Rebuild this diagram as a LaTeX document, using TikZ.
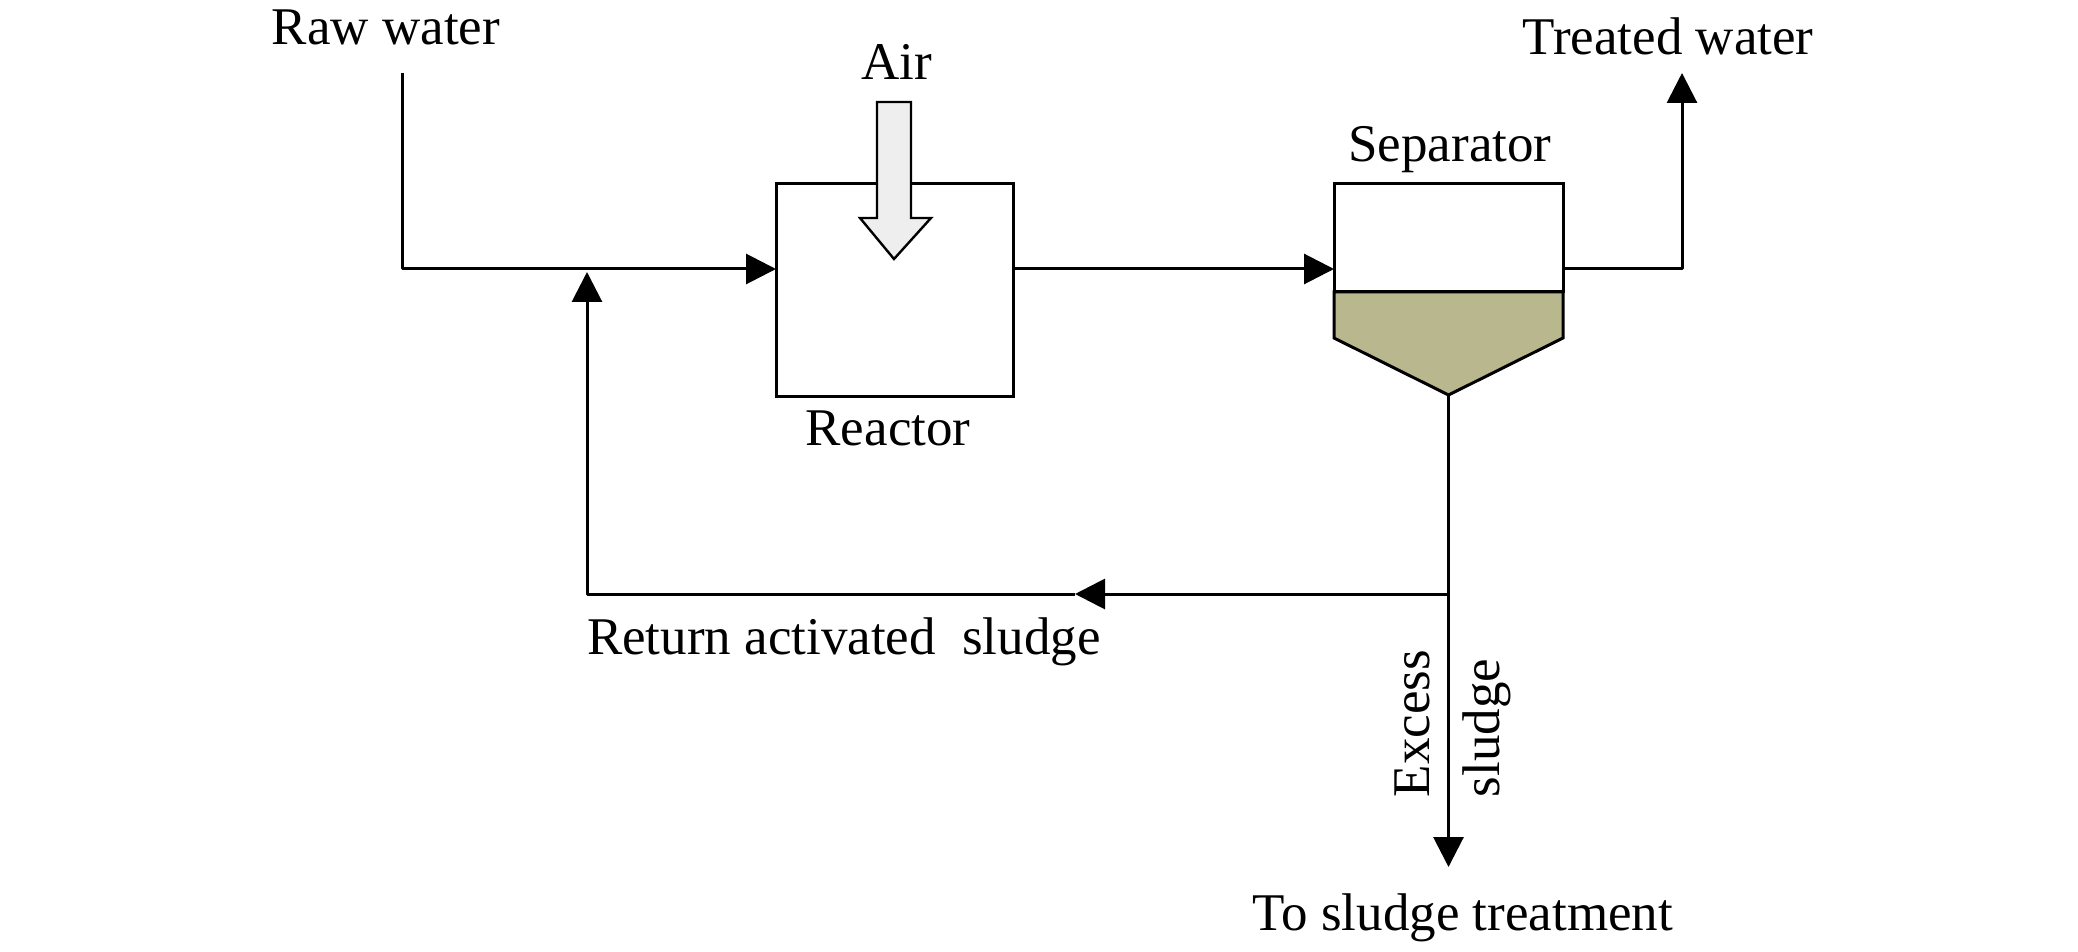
\documentclass[tikz,border=0pt]{standalone}
\usepackage{fontspec}
\setmainfont{Liberation Serif}
\usetikzlibrary{arrows.meta,calc}
\definecolor{sludgecol}{RGB}{185,183,141}
\definecolor{aircol}{RGB}{238,238,238}
\begin{document}
\begin{tikzpicture}[x=0.5pt,y=-0.5pt,
  pipe/.style={line width=1.5pt},
  flow/.style={pipe,-{Triangle[length=15pt,width=15pt]}},
  lbl/.style={inner sep=0pt,outer sep=0pt,font=\fontsize{26.5}{30}\selectfont},
  unitbox/.style={draw,line width=1.5pt,inner sep=0pt,outer sep=0pt,fill=white}]
\useasboundingbox (0,0) rectangle (2078,952);
% units
\node[unitbox,minimum width=118.5pt,minimum height=106pt] (reactor) at (894.5,290) {};
\node[unitbox,minimum width=114.5pt,minimum height=54pt] (sep) at (1448.5,238) {};
\coordinate (septip) at (1448.5,395);
\draw[pipe,fill=sludgecol,line join=miter] (sep.south west) -- (sep.south east) -- ++(0,46) -- (septip) -- ($(sep.south west)+(0,46)$) -- cycle;
% air arrow
\draw[line width=1.2pt,fill=aircol] (877,102) -- (911,102) -- (911,218) -- (931,218) -- (894,259) -- (860,218) -- (877,218) -- cycle;
% coordinates
\coordinate (rawtop) at (402,73);
\coordinate (rawcorner) at (402,269);
\coordinate (retx) at (587,269);
\coordinate (junction) at (1448.5,594);
\coordinate (retcorner) at (587,594);
\coordinate (retmid) at (1075,594);
\coordinate (twcorner) at (1682,269);
\coordinate (twtop) at (1682,73);
\coordinate (sludgeend) at (1448.5,867);
% connectors
\draw[flow,line join=round] (rawtop) -- (rawcorner) -- (reactor.west |- rawcorner);
\draw[flow] (reactor.east |- rawcorner) -- (sep.west |- rawcorner);
\draw[flow,line join=round] (sep.east |- rawcorner) -- (twcorner) -- (twtop);
\draw[flow] (septip) -- (sludgeend);
\draw[flow] (junction) -- (retmid);
\draw[flow,line join=round] (retmid) -- (retcorner) -- ($(retx)+(0,3)$);
% labels
\node[lbl,anchor=base] (lraw) at (386,45) {Raw water};
\node[lbl,anchor=base] (lair) at (897,80) {Air};
\node[lbl,anchor=base] (ltw) at (1668,55) {Treated water};
\node[lbl,anchor=base] (lsep) at (1450,162) {Separator};
\node[lbl,anchor=base] (lreac) at (888,445) {Reactor};
\node[lbl,anchor=base west] (lret) at (587,654) {Return activated\ \ sludge};
\node[lbl,anchor=base west,rotate=90] (lexc) at (1429,797) {Excess};
\node[lbl,anchor=base west,rotate=90] (lsl) at (1499,797) {sludge};
\node[lbl,anchor=base] (lto) at (1463,930) {To sludge treatment};
\end{tikzpicture}
\end{document}
